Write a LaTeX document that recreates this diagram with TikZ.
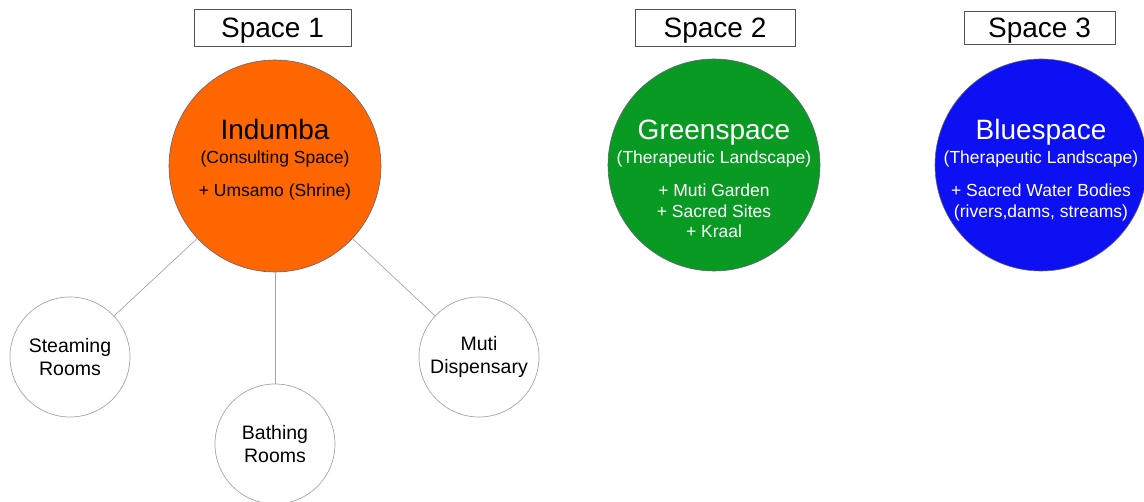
\documentclass[tikz,border=0pt]{standalone}
\usepackage{fontspec}
\setmainfont{Liberation Sans}
\definecolor{indumbaorange}{RGB}{255,102,0}
\definecolor{greenzone}{RGB}{8,154,34}
\definecolor{bluezone}{RGB}{12,16,242}
\definecolor{rimgray}{RGB}{100,100,120}
\definecolor{linegray}{RGB}{165,165,165}
\definecolor{boxline}{RGB}{80,80,80}
\begin{document}
\begin{tikzpicture}[x=1pt,y=-1pt,
  spacebox/.style={draw=boxline, line width=0.8pt, fill=white, inner sep=0pt,
    text depth=0pt, font=\fontsize{28}{31}\selectfont},
  bigzone/.style={circle, draw=rimgray, line width=0.6pt, minimum size=212pt, inner sep=0pt},
  subzone/.style={circle, draw=linegray, line width=0.7pt, fill=white, minimum size=120pt,
    inner sep=0pt, align=center, font=\fontsize{19.5}{22.5}\selectfont},
  title/.style={anchor=base, inner sep=0pt, font=\fontsize{28}{31}\selectfont},
  note/.style={anchor=base, inner sep=0pt, align=center, font=\fontsize{17.5}{20.5}\selectfont},
  link/.style={draw=linegray, line width=0.7pt}]
\useasboundingbox (0,0) rectangle (1144,502);

% space headings
\node[spacebox, minimum width=157pt, minimum height=37pt] (s1) at (272.5,27.5) {Space 1};
\node[spacebox, minimum width=160pt, minimum height=37pt] (s2) at (715,27.5) {Space 2};
\node[spacebox, minimum width=151pt, minimum height=33pt] (s3) at (1039.5,27.5) {Space 3};

% main zones
\node[bigzone, fill=indumbaorange] (ind) at (275,166) {};
\node[bigzone, fill=greenzone] (green) at (714,165) {};
\node[bigzone, fill=bluezone] (blue) at (1041,165) {};

% Indumba texts
\node[title] (indT) at (275,140) {Indumba};
\node[note] (indS) at (275,164) {(Consulting Space)};
\node[note] (indN) at (275,197) {+ Umsamo (Shrine)};

% Greenspace texts (multi-line notes sit on their last baseline)
\node[title, text=white] (greenT) at (714,140) {Greenspace};
\node[note, text=white] (greenS) at (714,164) {(Therapeutic Landscape)};
\node[note, text=white] (greenN) at (714,238) {+ Muti Garden\\+ Sacred Sites\\+ Kraal};

% Bluespace texts
\node[title, text=white] (blueT) at (1041,140) {Bluespace};
\node[note, text=white] (blueS) at (1041,164) {(Therapeutic Landscape)};
\node[note, text=white] (blueN) at (1041,217.5) {+ Sacred Water Bodies\\(rivers,dams, streams)};

% rooms around Indumba
\node[subzone] (steam) at (70,357) {Steaming\\Rooms};
\node[subzone] (bath) at (275,444) {Bathing\\Rooms};
\node[subzone] (muti) at (479,357) {Muti\\Dispensary};

\draw[link] (ind) -- (steam);
\draw[link] (ind) -- (bath);
\draw[link] (ind) -- (muti);
\end{tikzpicture}
\end{document}
